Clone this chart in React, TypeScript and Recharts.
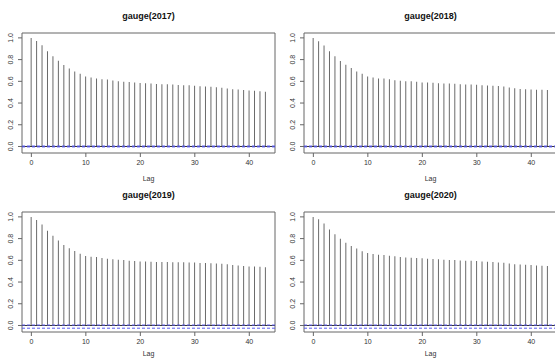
import React from "react";
import {
  ComposedChart, Bar, XAxis, YAxis, ReferenceLine, ReferenceArea,
} from "recharts";

const lags = [
  0, 1, 2, 3, 4, 5, 6, 7, 8, 9, 10, 11, 12, 13, 14, 15, 16, 17, 18, 19, 20, 21,
  22, 23, 24, 25, 26, 27, 28, 29, 30, 31, 32, 33, 34, 35, 36, 37, 38, 39, 40, 41, 42, 43,
];

const acf2017 = [
  1, 0.972, 0.932, 0.877, 0.83, 0.79, 0.75, 0.719, 0.691, 0.67,
  0.645, 0.636, 0.627, 0.62, 0.617, 0.608, 0.6, 0.596, 0.593, 0.59,
  0.585, 0.583, 0.58, 0.576, 0.574, 0.572, 0.57, 0.566, 0.565, 0.564,
  0.559, 0.554, 0.552, 0.55, 0.546, 0.54, 0.534, 0.528, 0.525, 0.52,
  0.516, 0.514, 0.509, 0.503,
];
const acf2018 = [
  1, 0.969, 0.929, 0.877, 0.83, 0.787, 0.753, 0.722, 0.691, 0.67,
  0.645, 0.636, 0.627, 0.625, 0.62, 0.611, 0.605, 0.6, 0.6, 0.596,
  0.59, 0.59, 0.586, 0.583, 0.58, 0.58, 0.577, 0.572, 0.571, 0.57,
  0.568, 0.565, 0.562, 0.559, 0.556, 0.552, 0.543, 0.537, 0.53, 0.528,
  0.525, 0.522, 0.522, 0.519,
];
const acf2019 = [
  1, 0.972, 0.929, 0.873, 0.826, 0.783, 0.742, 0.711, 0.686, 0.661,
  0.64, 0.634, 0.63, 0.621, 0.615, 0.609, 0.606, 0.602, 0.596, 0.593,
  0.59, 0.59, 0.588, 0.585, 0.584, 0.584, 0.583, 0.583, 0.582, 0.581,
  0.579, 0.576, 0.575, 0.574, 0.571, 0.568, 0.565, 0.556, 0.553, 0.547,
  0.543, 0.542, 0.54, 0.537,
];
const acf2020 = [
  1, 0.978, 0.938, 0.885, 0.839, 0.798, 0.761, 0.733, 0.708, 0.683,
  0.668, 0.658, 0.652, 0.649, 0.643, 0.637, 0.63, 0.627, 0.624, 0.621,
  0.618, 0.615, 0.612, 0.609, 0.606, 0.603, 0.602, 0.599, 0.597, 0.596,
  0.593, 0.59, 0.587, 0.584, 0.581, 0.578, 0.571, 0.565, 0.562, 0.559,
  0.556, 0.553, 0.55, 0.547,
];

const titles = ["gauge(2017)", "gauge(2018)", "gauge(2019)", "gauge(2020)"];
const series = [acf2017, acf2018, acf2019, acf2020];
// confidence bounds (upper, lower) as they appear in each panel
const ciUpper = [0.004, 0.004, 0.004, 0.004];
const ciLower = [-0.004, -0.004, -0.025, -0.025];

const xTicks = [0, 10, 20, 30, 40];
const yTicks = [0, 0.2, 0.4, 0.6, 0.8, 1.0];
const xDomain = [-1.72, 44.72];
const yDomain = [-0.06, 1.045];

const FONT = "'Liberation Sans', Arial, sans-serif";
const GREY = "#666";

const YTick = ({ x, y, payload }: { x: number; y: number; payload: { value: number } }) => (
  <text
    x={x}
    y={y}
    transform={`rotate(-90 ${x} ${y})`}
    textAnchor="middle"
    fontSize={7}
    fontFamily={FONT}
    fill="#333"
  >
    {payload.value.toFixed(1)}
  </text>
);

function AcfPanel({ idx, left, top, lagOffset }: { idx: number; left: number; top: number; lagOffset: number }) {
  const data = lags.map((lag, i) => ({ lag, acf: series[idx][i] }));
  return (
    <div style={{ position: "absolute", left, top, width: 280, height: 183 }}>
      <div
        style={{
          position: "absolute", left: 22, top: 10, width: 253, textAlign: "center",
          font: `bold 9px ${FONT}`, lineHeight: "12px", color: "#111",
        }}
      >
        {titles[idx]}
      </div>
      <ComposedChart
        width={280}
        height={183}
        data={data}
        margin={{ top: 33, right: 5, bottom: 0, left: 0 }}
        style={{ overflow: "visible" }}
      >
        <XAxis
          dataKey="lag"
          type="number"
          domain={xDomain}
          ticks={xTicks}
          interval={0}
          allowDataOverflow
          axisLine={false}
          tickLine={{ stroke: GREY }}
          tickSize={4}
          tickMargin={3}
          height={30}
          tick={{ fontSize: 7, fill: "#333", fontFamily: FONT }}
          label={{ value: "Lag", position: "insideBottom", offset: lagOffset, fontSize: 7, fill: "#333", fontFamily: FONT }}
        />
        <YAxis
          type="number"
          domain={yDomain}
          ticks={yTicks}
          interval={0}
          allowDataOverflow
          axisLine={false}
          tickLine={{ stroke: GREY }}
          tickSize={4}
          tickMargin={5}
          width={22}
          tick={YTick}
        />
        <Bar dataKey="acf" barSize={1} fill="#6a6a6a" isAnimationActive={false} />
        <ReferenceLine y={0} stroke="#333" strokeWidth={1} />
        <ReferenceLine y={ciUpper[idx]} stroke="#5a5af0" strokeDasharray="3 2" strokeWidth={1} />
        <ReferenceLine y={ciLower[idx]} stroke="#5a5af0" strokeDasharray="3 2" strokeWidth={1} />
        <ReferenceArea
          x1={xDomain[0]} x2={xDomain[1]} y1={yDomain[0]} y2={yDomain[1]}
          fill="none" stroke={GREY} strokeWidth={1} ifOverflow="visible"
        />
      </ComposedChart>
    </div>
  );
}

export default function App() {
  return (
    <div
      style={{
        position: "absolute", left: 0, top: 0, width: 555, height: 358,
        overflow: "hidden", background: "#fff",
      }}
    >
      <AcfPanel idx={0} left={0} top={0} lagOffset={2} />
      <AcfPanel idx={1} left={282} top={0} lagOffset={2} />
      <AcfPanel idx={2} left={0} top={179} lagOffset={6} />
      <AcfPanel idx={3} left={282} top={179} lagOffset={6} />
    </div>
  );
}
